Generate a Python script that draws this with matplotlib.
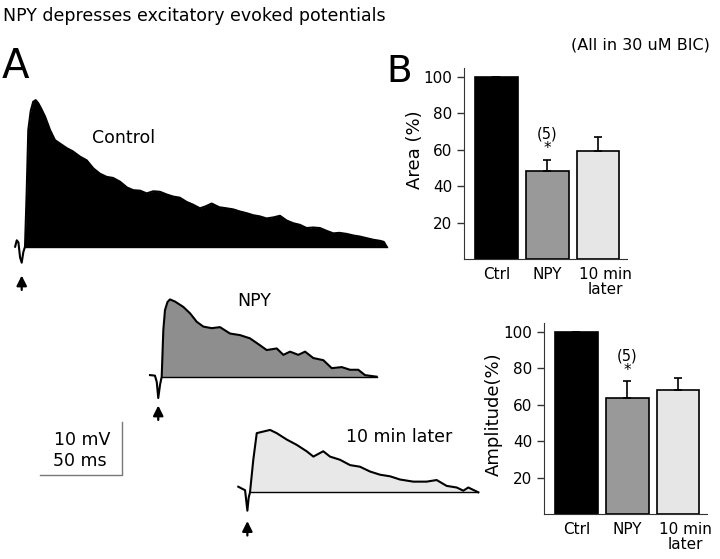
import matplotlib.pyplot as plt
import numpy as np

# bar chart values (% of control)
conds = ['Ctrl', 'NPY', '10 min\nlater']
area = [100, 48.5, 59.5]
area_err = [0, 6, 7.5]
amp = [100, 64, 68.2]
amp_err = [0, 9, 6.6]
bar_colors = ['black', '#999999', '#e6e6e6']

# traces: time after stimulus (ms), potential (mV)
ctrl_t = [-6, -5, -4, -3, -2, -1, 0, 1, 2, 3.5, 5, 6.5, 8.1, 10, 12.2, 15.2, 18.2, 21.5, 25.3, 29, 33.4, 37.5,
          41.5, 45.5, 49.6, 53.5, 57.7, 62, 65.8, 70, 73.9, 78, 82, 86, 90.1, 94, 98.2, 102, 106.3, 110, 113.4,
          118, 122.5, 126.5, 130.6, 134.5, 138.7, 142.5, 146.8, 151, 154.9, 159, 163, 167, 171.1, 175, 179.2,
          183, 187.3, 191, 195.4, 199.5, 203.5, 207.5, 211.6, 215.7, 218, 219.7]
ctrl_v = [0, 1.2, 0.8, -2.0, -3.0, -1.0, 0, 10, 21.9, 25.5, 27.2, 27.5, 26.9, 25.8, 24.4, 21.9, 20.0, 19.3, 18.5,
          17.9, 16.9, 16.2, 14.7, 13.7, 13.1, 12.9, 12.2, 11.1, 10.6, 10.5, 10.0, 10.4, 10.3, 9.8, 9.4, 9.2, 8.4,
          7.9, 7.2, 7.6, 8.1, 7.4, 7.2, 7.0, 6.6, 6.3, 5.9, 5.7, 5.3, 5.5, 5.8, 4.9, 4.4, 4.1, 3.5, 3.6, 3.5,
          3.0, 2.5, 2.6, 2.4, 2.1, 1.9, 1.6, 1.3, 1.1, 0.9, 0]

npy_t = [-7.1, -4.1, -3.0, -2.1, -1.0, 0, 1.0, 2.0, 3.5, 5.0, 8.1, 13.1, 17.2, 21.3, 25.3, 30.4, 35.4, 41.5,
         47.6, 53.6, 59.7, 63.8, 69.9, 73.9, 78.0, 83.0, 87.1, 92.1, 98.2, 103.3, 109.4, 114.4, 119.4, 123.5,
         130.6]
npy_v = [0.3, 0.2, -1.0, -4.0, -1.5, 0, 8.8, 12.5, 14.0, 14.5, 14.1, 13.1, 11.9, 10.3, 9.4, 9.1, 9.3, 8.1, 7.8,
         7.2, 5.9, 5.0, 5.3, 4.1, 4.7, 4.1, 4.7, 3.5, 3.1, 1.6, 1.8, 1.3, 1.3, 0.3, 0]

late_t = [-7.1, -5.0, -3.0, -1.6, -0.8, 0, 2.0, 4.1, 8.1, 12.2, 16.2, 22.3, 28.4, 34.4, 38.5, 44.5, 48.6, 54.7,
          60.8, 66.8, 72.9, 79.0, 85.1, 91.1, 99.2, 107.3, 113.4, 119.5, 125.6, 129.6, 132.6, 138.7]
late_v = [1.05, 0.7, 0.4, -3.45, -1.0, 0, 6.1, 11.1, 11.4, 11.7, 11.1, 9.9, 8.9, 7.7, 6.7, 7.7, 6.7, 6.1, 5.1,
          4.8, 3.9, 3.3, 3.0, 2.4, 2.0, 2.0, 2.3, 1.2, 0.9, 0.3, 0.9, 0]

# drawing scale of the traces (pixels per ms / per mV), as given by the scale bar
PX_MS = 1.646
PX_MV = 5.33

fig = plt.figure(figsize=(7.2, 5.59), dpi=100)
ax = fig.add_axes([0, 0, 1, 1])
ax.set_xlim(0, 720)
ax.set_ylim(559, 0)
ax.axis('off')


def draw_trace(t, v, x0, y0, fill, art_t):
    t = np.array(t)
    v = np.array(v)
    x = x0 + t * PX_MS
    y = y0 - v * PX_MV
    pos = t >= 0
    ax.fill_between(x[pos], y0, y[pos], color=fill, lw=0)
    ax.plot([x[pos][0], x[-1]], [y0, y0], color='black', lw=1.0)
    ax.plot(x, y, color='black', lw=1.5, solid_joinstyle='round')
    xa = x0 + art_t * PX_MS
    ax.annotate('', xy=(xa, y0 + 26), xytext=(xa, y0 + 46),
                arrowprops=dict(arrowstyle='-|>', color='black', lw=1.6, mutation_scale=15))


draw_trace(ctrl_t, ctrl_v, 25, 246.7, 'black', -2)
draw_trace(npy_t, npy_v, 161.7, 376.7, '#8e8e8e', -2.1)
draw_trace(late_t, late_v, 250, 492.3, '#e8e8e8', -1.6)

ax.text(92, 143, 'Control', fontsize=12.5, va='baseline')
ax.text(237, 306, 'NPY', fontsize=12.5, va='baseline')
ax.text(346, 442, '10 min later', fontsize=12.5, va='baseline')

# scale bar
cx, cy = 122.3, 475
ax.plot([cx - 50 * PX_MS, cx, cx], [cy, cy, cy - 10 * PX_MV], color='#777777', lw=1)
ax.text(110, 445, '10 mV', fontsize=12.5, va='baseline', ha='right')
ax.text(107, 466, '50 ms', fontsize=12.5, va='baseline', ha='right')

ax.text(3, 21, 'NPY depresses excitatory evoked potentials', fontsize=12.5, va='baseline')
ax.text(2, 78, 'A', fontsize=29, va='baseline')
ax.text(386, 82, 'B', fontsize=27, va='baseline')
ax.text(710, 50, '(All in 30 uM BIC)', fontsize=11.5, va='baseline', ha='right')


def bar_panel(rect, vals, errs, ylabel, lab_xy):
    b = fig.add_axes(rect)
    x = np.arange(len(vals))
    b.bar(x, vals, width=0.84, color=bar_colors, edgecolor='black', lw=1.2,
          yerr=[[0] * len(errs), errs], capsize=3, error_kw=dict(lw=1.2, capthick=1.2))
    b.set_xlim(-0.64, 2.57)
    b.set_ylim(0, 105)
    b.set_yticks([20, 40, 60, 80, 100])
    b.set_xticks([0, 1, 2.15])
    b.set_xticklabels(conds, fontsize=11, linespacing=1.0)
    b.tick_params(axis='x', length=0, pad=6)
    b.tick_params(axis='y', labelsize=11, length=5, width=1, color='#333333')
    for s in ['top', 'right']:
        b.spines[s].set_visible(False)
    for s in ['left', 'bottom']:
        b.spines[s].set_color('#333333')
    b.set_ylabel(ylabel, fontsize=13)
    b.yaxis.set_label_coords(*lab_xy)
    top = vals[1] + errs[1]
    b.text(1, top + 6, '*', ha='center', va='center', fontsize=11)
    b.text(1, top + 14, '(5)', ha='center', va='center', fontsize=10.5)
    return b


bar_panel([464 / 720, 1 - 259 / 559, 163 / 720, 191 / 559], area, area_err, 'Area (%)', (-0.245, 0.57))
bar_panel([544 / 720, 1 - 514 / 559, 163 / 720, 191 / 559], amp, amp_err, 'Amplitude(%)', (-0.255, 0.52))

fig.savefig('out.png', dpi=100)
